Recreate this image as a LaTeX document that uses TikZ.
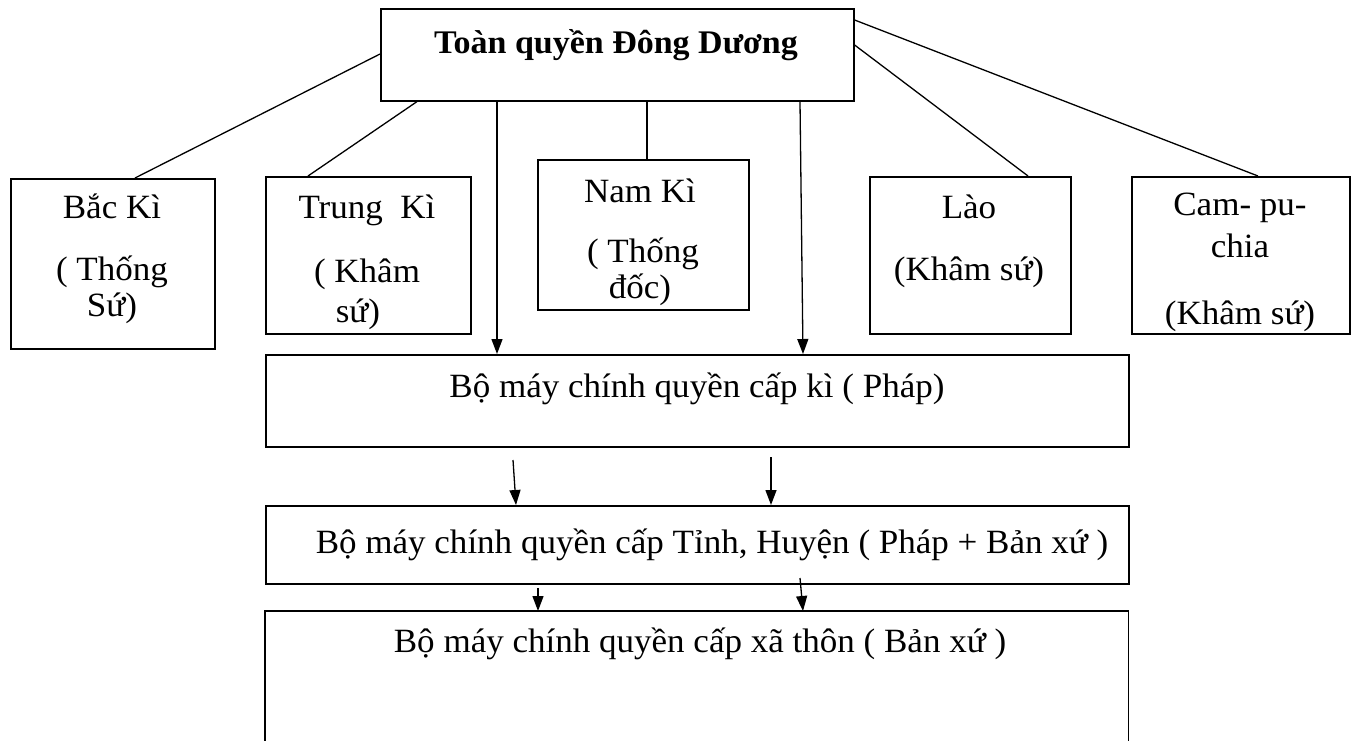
\documentclass[tikz,border=0pt]{standalone}
\usepackage{fontspec}
\setmainfont[FakeStretch=1.03]{Liberation Serif}
\usetikzlibrary{arrows.meta}
\begin{document}
\begin{tikzpicture}[x=1pt,y=-1pt,
  box/.style={draw,line width=1.6pt,anchor=north west,inner sep=0pt},
  txt/.style={inner sep=0pt,anchor=base,font=\fontsize{34}{40}\selectfont},
  btxt/.style={inner sep=0pt,anchor=base,font=\fontsize{33}{38}\selectfont\bfseries},
  conn/.style={line width=1.3pt},
  arr/.style={line width=1.3pt,-{Triangle[length=15pt,width=11pt]}}]
\useasboundingbox (0,0) rectangle (1361,740);
% boxes
\node[box,minimum width=473,minimum height=92] (top) at (380,8) {};
\node[box,minimum width=204,minimum height=170] (bac) at (10,178) {};
\node[box,minimum width=205,minimum height=157] (trung) at (265,176) {};
\node[box,minimum width=211,minimum height=150] (nam) at (537,159) {};
\node[box,minimum width=201,minimum height=157] (lao) at (869,176) {};
\node[box,minimum width=218,minimum height=157] (cam) at (1131,176) {};
\node[box,minimum width=863,minimum height=92] (ki) at (265,354) {};
\node[box,minimum width=863,minimum height=78] (tinh) at (265,505) {};
\node[inner sep=0pt,minimum width=863,minimum height=140,anchor=north west] (xa) at (265,611) {};
\draw[line width=1.6pt] (xa.south west) -- (xa.north west) -- (xa.north east) -- (xa.south east);
% texts
\node[btxt] (topt) at (616,53) {Toàn quyền Đông Dương};
\node[txt] (bac1) at (112,218) {Bắc Kì};
\node[txt] (bac2) at (112,280) {( Thống};
\node[txt] (bac3) at (112,316) {Sứ)};
\node[txt] (tr1) at (367,218) {Trung\ \ Kì};
\node[txt] (tr2) at (367,282) {( Khâm};
\node[txt] (tr3) at (358,322) {sứ)};
\node[txt] (nam1) at (640,202) {Nam Kì};
\node[txt] (nam2) at (643,262) {( Thống};
\node[txt] (nam3) at (640,298) {đốc)};
\node[txt] (lao1) at (969,218) {Lào};
\node[txt] (lao2) at (969,280) {(Khâm sứ)};
\node[txt] (cam1) at (1240,215) {Cam- pu-};
\node[txt] (cam2) at (1240,257) {chia};
\node[txt] (cam3) at (1240,324) {(Khâm sứ)};
\node[txt] (kit) at (697,397) {Bộ máy chính quyền cấp kì ( Pháp)};
\node[txt] (tinht) at (712,553) {Bộ máy chính quyền cấp Tỉnh, Huyện ( Pháp + Bản xứ )};
\node[txt] (xat) at (700,652) {Bộ máy chính quyền cấp xã thôn ( Bản xứ )};
% connectors
\draw[conn] (top.west |- 0,54) -- (bac.north -| 135,0);
\draw[conn] (top.south -| 417,0) -- (trung.north -| 308,0);
\draw[arr] (top.south -| 497,0) -- (ki.north -| 497,0);
\draw[conn] (top.south -| 647,0) -- (nam.north -| 647,0);
\draw[arr] (top.south -| 800,0) -- (ki.north -| 803,0);
\draw[conn] (top.east |- 0,45) -- (lao.north -| 1028,0);
\draw[conn] (top.east |- 0,20) -- (cam.north -| 1258,0);
\coordinate (a1) at (513,460);
\coordinate (a2) at (771,457);
\coordinate (a3) at (538,588);
\coordinate (a4) at (800,578);
\draw[arr] (a1) -- (tinh.north -| 516,0);
\draw[arr] (a2) -- (tinh.north -| 771,0);
\draw[arr] (a3) -- (xa.north -| 538,0);
\draw[arr] (a4) -- (xa.north -| 803,0);
\end{tikzpicture}
\end{document}
